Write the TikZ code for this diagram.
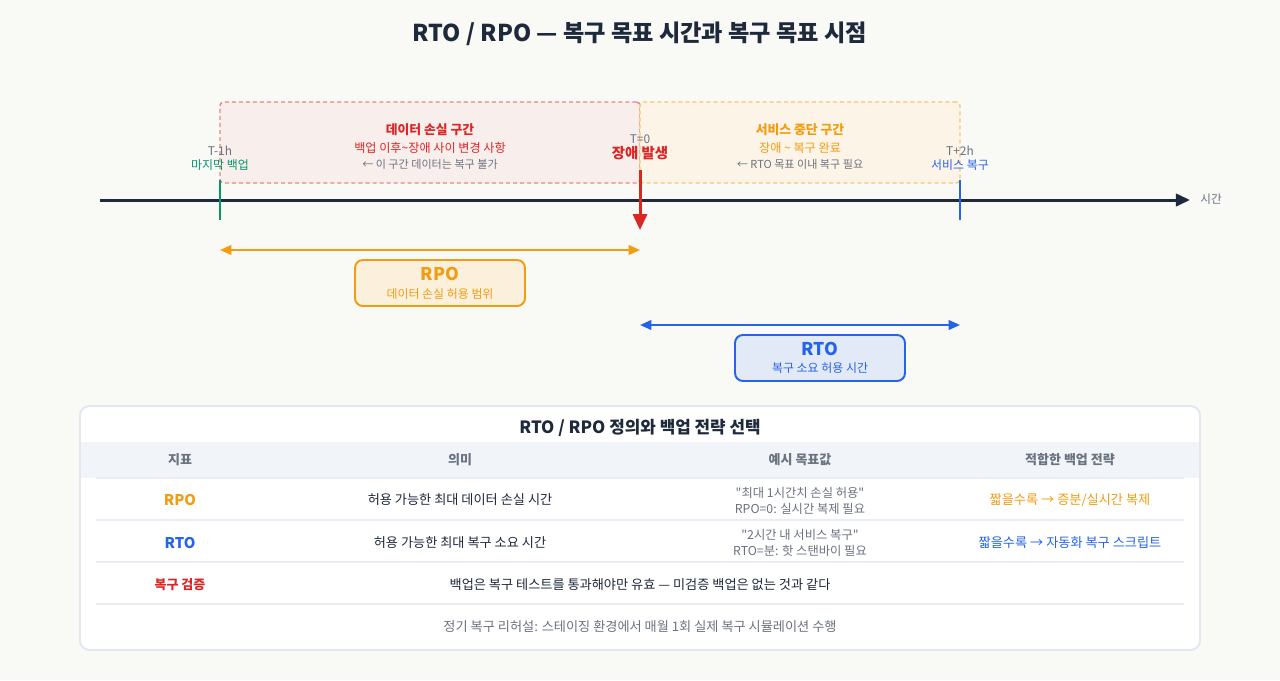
\documentclass[tikz,border=0pt]{standalone}
\usepackage{fontspec}
\setmainfont{Noto Sans CJK KR}[Ligatures=TeXOff]
\usetikzlibrary{arrows.meta}
\definecolor{bg}{HTML}{F9F9F6}
\definecolor{navy}{HTML}{1E293B}
\definecolor{muted}{HTML}{6B7280}
\definecolor{lossred}{HTML}{DC2626}
\definecolor{lossline}{HTML}{EC8585}
\definecolor{lossfill}{HTML}{F8EEEB}
\definecolor{amber}{HTML}{F39C12}
\definecolor{downline}{HTML}{F8C56E}
\definecolor{downfill}{HTML}{FBF4E7}
\definecolor{rpofill}{HTML}{FBF0DC}
\definecolor{okblue}{HTML}{2563EB}
\definecolor{rtofill}{HTML}{E2E9F7}
\definecolor{okgreen}{HTML}{059669}
\definecolor{cardline}{HTML}{E2E8F0}
\definecolor{headfill}{HTML}{F1F5F9}
\definecolor{rowline}{HTML}{E8EDF3}
\newcommand{\fs}[1]{\fontsize{#1pt}{#1pt}\selectfont}
\tikzset{
  lbl/.style={inner sep=0pt, align=center},
  zone/.style={draw, dash pattern=on 2.3pt off 1.7pt, line width=0.8pt, rounded corners=2pt,
    minimum height=1.62cm, inner sep=0pt},
  span/.style={line width=1.2pt, {Triangle[length=6.5pt,width=5.5pt]}-{Triangle[length=6.5pt,width=5.5pt]}},
  tagbox/.style={draw, line width=1.1pt, rounded corners=4.5pt, minimum width=3.4cm,
    minimum height=0.92cm, inner sep=0pt},
  tickline/.style={line width=1.1pt}
}
\newcommand{\lnode}{\node[lbl]}
\begin{document}
\begin{tikzpicture}[x=0.02cm,y=-0.02cm]
  \useasboundingbox[fill=bg] (0,0) rectangle (1280,680);
  \lnode[text=navy] (title) at (640,34) {\fs{13.2}\bfseries RTO / RPO — 복구 목표 시간과 복구 목표 시점};
  % zones
  \node[zone,draw=lossline,fill=lossfill,minimum width=8.4cm] (loss) at (430,142.5) {};
  \node[zone,draw=downline,fill=downfill,minimum width=6.4cm] (down) at (800,142.5) {};
  \lnode[text=lossred] (losshead) at (430,130) {\fs{7.3}\bfseries 데이터 손실 구간};
  \lnode[text=lossred] (losssub) at (430,148) {\fs{6.9}백업 이후\textasciitilde 장애 사이 변경 사항};
  \lnode[text=muted] (lossnote) at (430,164) {\fs{6.3}← 이 구간 데이터는 복구 불가};
  \lnode[text=amber] (downhead) at (800,130) {\fs{7.3}\bfseries 서비스 중단 구간};
  \lnode[text=amber] (downsub) at (800,148) {\fs{6.9}장애 \textasciitilde\ 복구 완료};
  \lnode[text=muted] (downnote) at (800,164) {\fs{6.3}← RTO 목표 이내 복구 필요};
  % timeline
  \coordinate (tstart) at (100,200);
  \coordinate (tend) at (1190,200);
  \draw[navy,line width=1.7pt,-{Triangle[length=8pt,width=7pt]}] (tstart) -- (tend);
  \lnode[text=muted,anchor=west] (timelbl) at (1200,199) {\fs{6.6}시간};
  % T-1h
  \coordinate (bktop) at (220,180);
  \coordinate (bkbot) at (220,220);
  \draw[tickline,okgreen] (bktop) -- (bkbot);
  \lnode[text=muted] (bkt) at (220,151) {\fs{6.8}T-1h};
  \lnode[text=okgreen] (bkname) at (220,165) {\fs{6.8}마지막 백업};
  % T=0
  \coordinate (failtop) at (640,170);
  \coordinate (failbot) at (640,230);
  \draw[lossred,line width=1.7pt,-{Triangle[length=9pt,width=8pt]}] (failtop) -- (failbot);
  \lnode[text=muted] (failt) at (640,139) {\fs{6.8}T=0};
  \lnode[text=lossred] (failname) at (640,153) {\fs{8.2}\bfseries 장애 발생};
  % T+2h
  \coordinate (uptop) at (960,180);
  \coordinate (upbot) at (960,220);
  \draw[tickline,okblue] (uptop) -- (upbot);
  \lnode[text=muted] (upt) at (960,151) {\fs{6.8}T+2h};
  \lnode[text=okblue] (upname) at (960,165) {\fs{6.8}서비스 복구};
  % RPO / RTO spans
  \coordinate (rpoL) at (220,250);
  \coordinate (rpoR) at (640,250);
  \draw[span,amber] (rpoL) -- (rpoR);
  \node[tagbox,draw=amber,fill=rpofill] (rpobox) at (440,283) {};
  \lnode[text=amber] (rponame) at (440,274) {\fs{10}\bfseries RPO};
  \lnode[text=amber] (rposub) at (440,294) {\fs{6.8}데이터 손실 허용 범위};
  \coordinate (rtoL) at (640,325);
  \coordinate (rtoR) at (960,325);
  \draw[span,okblue] (rtoL) -- (rtoR);
  \node[tagbox,draw=okblue,fill=rtofill] (rtobox) at (820,358) {};
  \lnode[text=okblue] (rtoname) at (820,349) {\fs{10}\bfseries RTO};
  \lnode[text=okblue] (rtosub) at (820,368) {\fs{6.8}복구 소요 허용 시간};
  % table
  \draw[cardline,line width=1.1pt,fill=white,rounded corners=5.5pt] (80,406) rectangle (1200,650);
  \fill[headfill] (81,442) rectangle (1199,478);
  \foreach \y in {478,520,562,604} \draw[rowline,line width=1.1pt] (96,\y) -- (1184,\y);
  \lnode[text=navy] (tabtitle) at (640,428) {\fs{9.6}\bfseries RTO / RPO 정의와 백업 전략 선택};
  \lnode[text=muted] (h1) at (180,460) {\fs{7.4}\bfseries 지표};
  \lnode[text=muted] (h2) at (460,460) {\fs{7.4}\bfseries 의미};
  \lnode[text=muted] (h3) at (800,460) {\fs{7.4}\bfseries 예시 목표값};
  \lnode[text=muted] (h4) at (1070,460) {\fs{7.4}\bfseries 적합한 백업 전략};
  \lnode[text=amber] (r1a) at (180,500) {\fs{8.4}\bfseries RPO};
  \lnode[text=navy] (r1b) at (460,500) {\fs{7.5}허용 가능한 최대 데이터 손실 시간};
  \lnode[text=muted] (r1c) at (800,493) {\fs{7}"최대 1시간치 손실 허용"};
  \lnode[text=muted] (r1d) at (800,509) {\fs{7}RPO=0: 실시간 복제 필요};
  \lnode[text=amber] (r1e) at (1070,500) {\fs{7.5}짧을수록 → 증분/실시간 복제};
  \lnode[text=okblue] (r2a) at (180,543) {\fs{8.4}\bfseries RTO};
  \lnode[text=navy] (r2b) at (460,543) {\fs{7.5}허용 가능한 최대 복구 소요 시간};
  \lnode[text=muted] (r2c) at (800,535) {\fs{7}"2시간 내 서비스 복구"};
  \lnode[text=muted] (r2d) at (800,551) {\fs{7}RTO=분: 핫 스탠바이 필요};
  \lnode[text=okblue] (r2e) at (1070,543) {\fs{7.5}짧을수록 → 자동화 복구 스크립트};
  \lnode[text=lossred] (r3a) at (180,585) {\fs{7.4}\bfseries 복구 검증};
  \lnode[text=navy] (r3b) at (640,585) {\fs{7.5}백업은 복구 테스트를 통과해야만 유효 — 미검증 백업은 없는 것과 같다};
  \lnode[text=muted] (foot) at (640,627) {\fs{7.5}정기 복구 리허설: 스테이징 환경에서 매월 1회 실제 복구 시뮬레이션 수행};
\end{tikzpicture}
\end{document}
